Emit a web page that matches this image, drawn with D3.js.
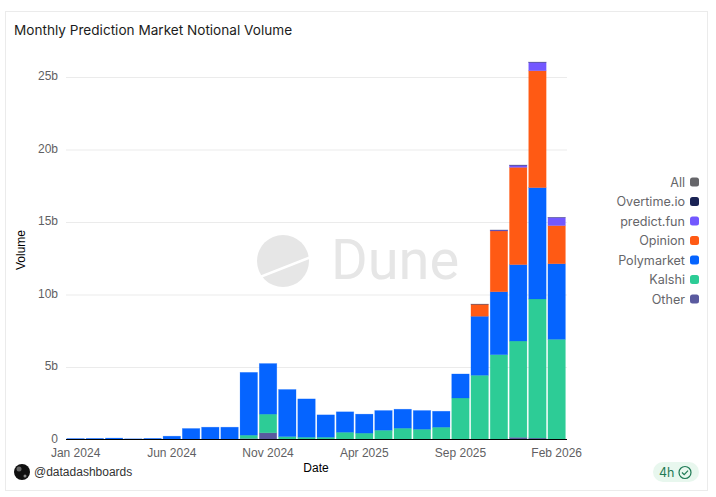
<!DOCTYPE html>
<html>
<head>
<meta charset="utf-8">
<script src="https://cdn.jsdelivr.net/npm/d3@7"></script>
<style>
  html, body { margin: 0; padding: 0; background: #fff; }
  svg { display: block; }
  .axis text { font-family: "Liberation Sans", Arial, sans-serif; font-size: 12px; fill: #5f5f63; }
  .legend text { font-family: Inter, sans-serif; font-size: 12.6px; fill: #66666a; }
</style>
</head>
<body>
<svg id="chart"></svg>
<script>
// Monthly volume in billions.
const months = ["Jan 2024","Feb 2024","Mar 2024","Apr 2024","May 2024","Jun 2024","Jul 2024","Aug 2024","Sep 2024","Oct 2024","Nov 2024","Dec 2024",
  "Jan 2025","Feb 2025","Mar 2025","Apr 2025","May 2025","Jun 2025","Jul 2025","Aug 2025","Sep 2025","Oct 2025","Nov 2025","Dec 2025","Jan 2026","Feb 2026"];
const other      = [0,0,0,0,0,0,0,0,0,0.07,0.46,0,0,0,0,0,0,0,0,0,0,0.01,0.03,0.15,0.1,0.03];
const kalshi     = [0,0,0,0,0,0,0,0,0,0.23,1.29,0.2,0.16,0.16,0.5,0.44,0.64,0.78,0.71,0.85,2.86,4.42,5.82,6.64,9.59,6.88];
const polymarket = [0.07,0.08,0.1,0.05,0.08,0.23,0.76,0.85,0.85,4.33,3.49,3.25,2.64,1.54,1.41,1.31,1.36,1.31,1.29,1.1,1.66,4.07,4.34,5.27,7.68,5.21];
const opinion    = [0,0,0,0,0,0,0,0,0,0,0,0,0,0,0,0,0,0,0,0,0,0.82,4.19,6.71,8.06,2.63];
const predictFun = [0,0,0,0,0,0,0,0,0,0,0,0,0,0,0,0,0,0,0,0,0,0,0.05,0.14,0.58,0.55];
const overtime   = [0,0,0,0,0,0,0,0,0,0,0,0,0,0,0,0,0,0,0,0,0,0.02,0.02,0.02,0.02,0.02];

const seriesNames = ["All","Overtime.io","predict.fun","Opinion","Polymarket","Kalshi","Other"];
const seriesColors = ["#66666a","#1a2354","#7358ff","#ff5a14","#0564ff","#2dcc96","#5a5a9f"];
const xTickLabels = ["Jan 2024","Jun 2024","Nov 2024","Apr 2025","Sep 2025","Feb 2026"];
const yTicks = [0,5,10,15,20,25];

const width = 716, height = 497;
const svg = d3.select("#chart").attr("width", width).attr("height", height);

// Card around the chart
svg.append("rect")
  .attr("x", 5.5).attr("y", 11.5)
  .attr("width", 702).attr("height", 479)
  .attr("fill", "#fff").attr("stroke", "#ebebeb");

svg.append("text")
  .attr("x", 14).attr("y", 35)
  .attr("font-family", "Inter, sans-serif").attr("font-size", 13.6)
  .attr("fill", "#1c1c20")
  .text("Monthly Prediction Market Notional Volume");

const x = d3.scaleBand().domain(months).range([66, 566.3]).paddingInner(0.09).paddingOuter(0.045);
const y = d3.scaleLinear().domain([0, 25]).range([439.5, 77]);

// Dune watermark
const mark = svg.append("g").attr("fill", "#e6e6e6");
mark.append("circle").attr("cx", 283).attr("cy", 261).attr("r", 26);
mark.append("line")
  .attr("x1", 250).attr("y1", 281).attr("x2", 316).attr("y2", 255)
  .attr("stroke", "#fff").attr("stroke-width", 2.5);
mark.append("text")
  .attr("x", 331).attr("y", 279)
  .attr("font-family", "Roboto, sans-serif").attr("font-size", 56).attr("font-weight", 400)
  .text("Dune");

// Y axis and grid
const yAxis = svg.append("g").attr("class", "axis")
  .attr("transform", "translate(66,0)")
  .call(d3.axisLeft(y).tickValues(yTicks).tickSize(0).tickPadding(8).tickFormat(d => d === 0 ? "0" : d + "b"));
yAxis.select(".domain").remove();
yAxis.selectAll(".tick text").attr("dy", "0.22em");
yAxis.selectAll(".tick").filter(d => d !== 0).append("line")
  .attr("x2", 501).attr("stroke", "#ebebeb");

// Stacked bars
const table = months.map((m, i) => ({
  month: m, other: other[i], kalshi: kalshi[i], polymarket: polymarket[i],
  opinion: opinion[i], predictFun: predictFun[i], overtime: overtime[i]
}));
const stackKeys = ["other","kalshi","polymarket","opinion","predictFun","overtime"];
const stackColors = ["#5a5a9f","#2dcc96","#0564ff","#ff5a14","#7358ff","#1a2354"];
const stacked = d3.stack().keys(stackKeys)(table);

svg.append("g").selectAll("g")
  .data(stacked)
  .enter().append("g")
  .attr("fill", (d, i) => stackColors[i])
  .attr("stroke", (d, i) => stackColors[i])
  .selectAll("rect")
  .data(d => d.filter(p => p[1] > p[0]))
  .enter().append("rect")
  .attr("x", d => x(d.data.month))
  .attr("width", x.bandwidth())
  .attr("y", d => y(d[1]))
  .attr("height", d => y(d[0]) - y(d[1]))
  .attr("stroke-width", 0.6)
  .attr("stroke-opacity", 0.35);

// X axis
const xAxis = svg.append("g").attr("class", "axis")
  .attr("transform", "translate(0,439.5)")
  .call(d3.axisBottom(x).tickValues(xTickLabels).tickSize(0).tickPadding(9));
xAxis.select(".domain").attr("stroke", "#000").attr("d", "M66,0H567");

svg.append("text")
  .attr("x", 316).attr("y", 472).attr("text-anchor", "middle")
  .attr("font-family", "'Liberation Sans', Arial, sans-serif").attr("font-size", 12).attr("fill", "#000")
  .text("Date");
svg.append("text")
  .attr("transform", "translate(25,250) rotate(-90)").attr("text-anchor", "middle")
  .attr("font-family", "'Liberation Sans', Arial, sans-serif").attr("font-size", 12).attr("fill", "#000")
  .text("Volume");

// Legend
const legendY = d3.scalePoint().domain(seriesNames).range([182, 299]);
const legend = svg.append("g").attr("class", "legend").selectAll("g")
  .data(seriesNames)
  .enter().append("g")
  .attr("transform", d => `translate(0,${legendY(d)})`);
legend.append("text")
  .attr("x", 685).attr("y", 4.5).attr("text-anchor", "end")
  .text(d => d);
legend.append("rect")
  .attr("x", 690).attr("y", -4.5)
  .attr("width", 9).attr("height", 9).attr("rx", 2.5)
  .attr("fill", (d, i) => seriesColors[i]);

// Footer: author and freshness badge
svg.append("circle").attr("cx", 22).attr("cy", 472).attr("r", 8).attr("fill", "#111");
svg.append("circle").attr("cx", 19).attr("cy", 469).attr("r", 2.5).attr("fill", "#666");
svg.append("circle").attr("cx", 25).attr("cy", 476).attr("r", 1.5).attr("fill", "#888");
svg.append("text")
  .attr("x", 34).attr("y", 476)
  .attr("font-family", "'Liberation Sans', Arial, sans-serif").attr("font-size", 12).attr("fill", "#333")
  .text("@datadashboards");

svg.append("rect")
  .attr("x", 653).attr("y", 462).attr("width", 46).attr("height", 20).attr("rx", 10)
  .attr("fill", "#e8f7ee");
svg.append("text")
  .attr("x", 659).attr("y", 477)
  .attr("font-family", "Inter, sans-serif").attr("font-size", 12.5).attr("fill", "#1f7a55")
  .text("4h");
svg.append("circle").attr("cx", 685).attr("cy", 472.5).attr("r", 6)
  .attr("fill", "none").attr("stroke", "#1f7a55").attr("stroke-width", 1.2);
svg.append("path").attr("d", "M682,472.5l2.2,2.2l3.8,-4")
  .attr("fill", "none").attr("stroke", "#1f7a55").attr("stroke-width", 1.2);
</script>
</body>
</html>
